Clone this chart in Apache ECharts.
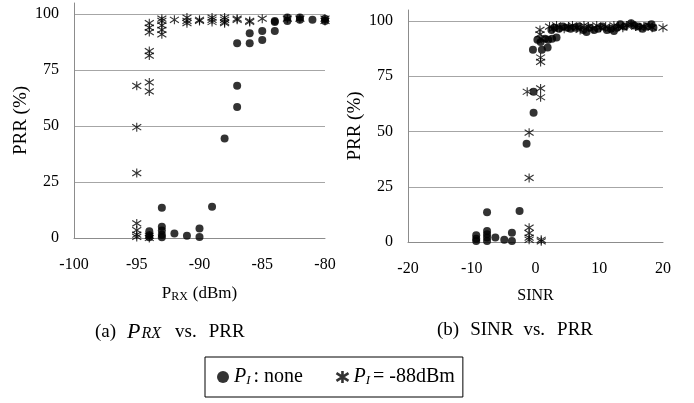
<!DOCTYPE html>
<html>
<head>
<meta charset="utf-8">
<script src="https://cdn.jsdelivr.net/npm/echarts@6/dist/echarts.min.js"></script>
<style>html,body{margin:0;padding:0;background:#fff}#c{width:694px;height:403px}</style>
</head>
<body>
<div id="c"></div>
<script>
// ---- data ----
const prxTicks = [-100, -95, -90, -85, -80];
const sinrTicks = [-20, -10, 0, 10, 20];
const prrTicks = [0, 25, 50, 75, 100];

// Left chart: P_RX (dBm) vs PRR (%), P_I: none
const prxNone = [[-94,3],[-94,1.2],[-94,0.3],[-93,13.5],[-93,5],[-93,3.3],[-93,1.5],[-93,0.3],[-92,2],[-91,1],
  [-90,4.2],[-90,0.5],[-89,14],[-88,44.5],[-87,68],[-87,58.5],[-87,87],[-86,91.5],[-86,87],[-85,92.5],[-85,88.5],
  [-84,92.5],[-84,97],[-84,96.5],[-83,97],[-83,98.5],[-82,97.5],[-82,98.5],[-81,97.5],[-80,97],[-80,98]];
// Left chart: P_I = -88 dBm
const prxInt = [[-95,68],[-95,49.5],[-95,29],[-95,6.5],[-95,3.5],[-95,1.5],[-95,0.5],[-94,96],[-94,94],[-94,92],
  [-94,83.5],[-94,81.5],[-94,69.5],[-94,65.5],[-94,1],[-94,0],[-93,98],[-93,97],[-93,95],[-93,93],[-93,91],
  [-92,97.5],[-91,98.5],[-91,97],[-91,96],[-90,97.5],[-90,97],[-89,98.5],[-89,97.5],[-89,96.5],[-88,98.5],
  [-88,97.5],[-88,96.5],[-88,96],[-87,98],[-87,97.5],[-86,97],[-86,96.5],[-85,98],[-83,98],[-82,98],[-80,98],[-80,97]];

// Right chart: SINR vs PRR (%), P_I: none
const sinrNone = [[-9.3,3],[-9.3,1.5],[-9.3,0.5],[-7.6,13.5],[-7.6,5],[-7.6,3.5],[-7.6,2],[-7.6,0.5],[-6.3,2],
  [-4.9,1],[-3.7,4.2],[-3.7,0.5],[-2.5,14],[-1.4,44.5],[-0.3,68],[-0.3,58.5],[-0.4,87],[1,87],[1.9,88],
  [0.3,91.5],[0.8,90.5],[1.5,92],[2,91.5],[2.6,92],[3.3,92.5],[2.5,96],[3,97],[3.7,96.5],[4.3,97.5],[5,97],
  [5.5,96.5],[6.2,97],[6.8,97.5],[7.5,96],[8,95],[8.5,97],[9.2,96],[9.8,96.5],[10.5,97.5],[11.2,96],[11.8,96.5],
  [12.3,95.5],[12.8,97],[13.3,98.5],[14,97.5],[15,99],[15.5,98],[16.2,97.5],[16.8,96.5],[17.5,97.5],[18.2,98.5],[18.5,97]];
// Right chart: P_I = -88 dBm
const sinrInt = [[-1.3,68],[-1,49.5],[-1,29],[-1,6.5],[-1,4],[-1,2],[-1,1],[0.9,1],[0.9,0.3],[0.8,69.5],[0.8,65.5],
  [0.8,83.5],[0.8,81.5],[0.7,96],[0.7,94],[0.9,92],[2.2,97.5],[2.8,96.5],[3.3,98],[3.8,97],[4.5,96.5],[5.2,97.5],
  [5.8,98],[6.5,97],[7,96],[7.6,98],[8.3,97.5],[9,96.5],[9.6,98],[10.2,97],[11,97.5],[11.6,96.5],[12.3,98],
  [13,97.5],[13.7,97],[14.3,98],[15,98.5],[15.7,97.5],[16.4,97],[17,97.5],[17.8,98],[18.3,97],[20,97]];

const legendNames = ['none', 'int'];
// ---- chart ----
const FONT = 'Liberation Serif';
const STAR = 'path://M0,1.8L10,8.2M0,8.2L10,1.8M5,0L5,10';
const chart = echarts.init(document.getElementById('c'), null, {renderer: 'canvas'});

function yAxis(idx) {
  return {
    gridIndex: idx, type: 'value', min: prrTicks[0], max: 105, interval: prrTicks[1] - prrTicks[0],
    name: 'PRR (%)', nameLocation: 'middle', nameGap: 42, nameRotate: 90,
    nameTextStyle: {fontFamily: FONT, fontSize: 19, color: '#000', lineHeight: 20},
    axisLine: {show: true, onZero: false, lineStyle: {color: '#8c8c8c', width: 1}},
    axisTick: {show: false},
    axisLabel: {fontFamily: FONT, fontSize: 16, color: '#000', margin: 15, showMaxLabel: false},
    splitLine: {show: true, showMaxLine: false, lineStyle: {color: '#a6a6a6', width: 1}}
  };
}
function xAxis(idx, ticks, name, gap) {
  return {
    gridIndex: idx, type: 'value', min: ticks[0], max: ticks[ticks.length - 1], interval: ticks[1] - ticks[0],
    name: name, nameLocation: 'middle', nameGap: gap,
    nameTextStyle: {fontFamily: FONT, fontSize: 16, color: '#000', lineHeight: 18, rich: nameRich},
    axisLine: {show: true, onZero: false, lineStyle: {color: '#8c8c8c', width: 1}},
    axisTick: {show: false},
    axisLabel: {fontFamily: FONT, fontSize: 16, color: '#000', margin: 19},
    splitLine: {show: false}
  };
}
const nameRich = {
  a: {fontFamily: FONT, fontSize: 17, color: '#000', lineHeight: 18},
  b: {fontFamily: FONT, fontSize: 12, color: '#000', lineHeight: 8, verticalAlign: 'bottom', padding: [0, 5, 0, 0]},
  c: {fontFamily: FONT, fontSize: 16, color: '#000', lineHeight: 18}
};
const capRich = {
  a: {fontFamily: FONT, fontSize: 19, color: '#000', lineHeight: 20, padding: [0, 11, 0, 0]},
  b: {fontFamily: FONT, fontSize: 19, color: '#000', lineHeight: 20, padding: [0, 12, 0, 0]},
  v: {fontFamily: FONT, fontSize: 19, color: '#000', lineHeight: 20, padding: [0, 10, 0, 0]},
  t: {fontFamily: FONT, fontSize: 19, color: '#000', lineHeight: 20},
  p: {fontFamily: FONT, fontSize: 22, fontStyle: 'italic', color: '#000', lineHeight: 20},
  s: {fontFamily: FONT, fontSize: 16, fontStyle: 'italic', color: '#000', lineHeight: 10, verticalAlign: 'bottom', padding: [0, 14, 0, 1]}
};
const legRich = {
  p: {fontFamily: FONT, fontSize: 20, fontStyle: 'italic', color: '#000', lineHeight: 20},
  s: {fontFamily: FONT, fontSize: 13, fontStyle: 'italic', color: '#000', lineHeight: 6, verticalAlign: 'bottom', padding: [0, 3, 0, 0]},
  t: {fontFamily: FONT, fontSize: 20, color: '#000', lineHeight: 20}
};

function dotSeries(x, y, data, name) {
  return {type: 'scatter', name: name, xAxisIndex: x, yAxisIndex: y, data: data, symbol: 'circle', symbolSize: 8,
    itemStyle: {color: '#000'}, silent: true, z: 2};
}
function starSeries(x, y, data, name) {
  return {type: 'scatter', name: name, xAxisIndex: x, yAxisIndex: y, data: data, symbol: STAR, symbolSize: [9, 9],
    itemStyle: {color: 'none', borderColor: '#000', borderWidth: 1.1}, silent: true, z: 3};
}

chart.setOption({
  animation: false,
  backgroundColor: '#fff',
  grid: [
    {left: 74, top: 3, width: 251, height: 235},
    {left: 408, top: 10, width: 255, height: 232}
  ],
  xAxis: [
    xAxis(0, prxTicks, '{a|P}{b|RX}{a|(dBm)}', 47),
    xAxis(1, sinrTicks, '{c|SINR}', 45)
  ],
  yAxis: [yAxis(0), yAxis(1)],
  legend: {
    data: [
      {name: legendNames[0], icon: 'circle', itemStyle: {color: '#000'}},
      {name: legendNames[1], icon: STAR, itemStyle: {color: 'none', borderColor: '#000', borderWidth: 2.6}}
    ],
    left: 205, top: 357,
    orient: 'horizontal',
    itemWidth: 12, itemHeight: 12, itemGap: 31,
    padding: [10, 8, 10, 12],
    borderColor: '#000', borderWidth: 1,
    selectedMode: false,
    textStyle: {fontFamily: FONT, fontSize: 20, color: '#000', rich: legRich},
    formatter: function (n) {
      return n === 'none' ? '{p|P}{s|I}{t|: none}' : '{p|P}{s|I}{t|= -88dBm}';
    }
  },
  graphic: [
    {type: 'text', left: 95, top: 321, style: {text: '{a|(a)}{p|P}{s|RX}{b|vs.}{t|PRR}', rich: capRich}},
    {type: 'text', left: 437, top: 321, style: {text: '{a|(b)}{v|SINR}{b|vs.}{t|PRR}', rich: capRich}}
  ],
  series: [
    dotSeries(0, 0, prxNone, legendNames[0]),
    starSeries(0, 0, prxInt, legendNames[1]),
    dotSeries(1, 1, sinrNone, legendNames[0]),
    starSeries(1, 1, sinrInt, legendNames[1])
  ]
});
</script>
</body>
</html>
